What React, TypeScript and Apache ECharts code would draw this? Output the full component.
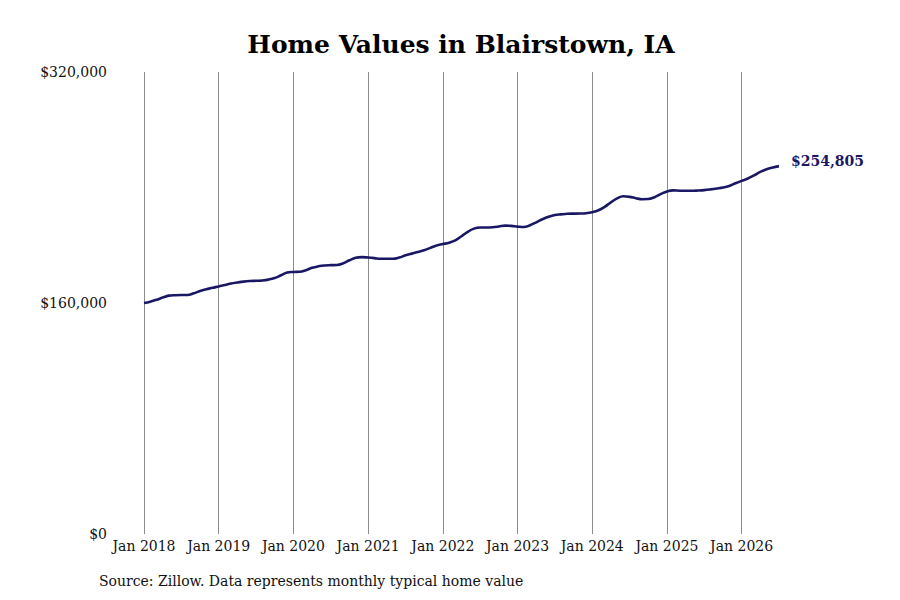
import { useEffect, useRef } from 'react'
import * as echarts from 'echarts'

const TITLE  = 'Home Values in Blairstown, IA'
const SOURCE = 'Source: Zillow. Data represents monthly typical home value'

const startYear = 2018
const monthNames = ['Jan', 'Feb', 'Mar', 'Apr', 'May', 'Jun', 'Jul', 'Aug', 'Sep', 'Oct', 'Nov', 'Dec']

// monthly typical home value, Jan 2018 .. Jul 2026
const values2018 = [160000, 160900, 162200, 163800, 165100, 165400, 165500, 165500, 166700, 168300, 169600, 170500]
const values2019 = [171500, 172400, 173500, 174200, 174800, 175200, 175400, 175600, 176200, 177300, 179200, 181100]
const values2020 = [181500, 181600, 182700, 184400, 185400, 186000, 186200, 186300, 187500, 189600, 191300, 191800]
const values2021 = [191500, 191100, 190600, 190600, 190600, 191500, 193000, 194200, 195300, 196500, 198200, 199800]
const values2022 = [200800, 201800, 203400, 206200, 209300, 211500, 212300, 212300, 212500, 213000, 213600, 213400]
const values2023 = [212900, 212600, 213800, 215900, 218000, 219700, 220900, 221400, 221800, 221900, 222000, 222200]
const values2024 = [222900, 224200, 226600, 229700, 232500, 233900, 233500, 232600, 231900, 232000, 233300, 235400]
const values2025 = [237300, 238000, 237800, 237700, 237700, 237900, 238200, 238700, 239300, 240000, 241100, 242900]
const values2026 = [244600, 246200, 248400, 250800, 252700, 253900, 254805]

const values = [
  ...values2018, ...values2019, ...values2020, ...values2021, ...values2022,
  ...values2023, ...values2024, ...values2025, ...values2026,
]
const months = values.map((_, i) => `${monthNames[i % 12]} ${startYear + Math.floor(i / 12)}`)

const yTicks = [0, 160000, 320000]

const FONT = 'DejaVu Serif'
const LINE = '#1a1865'

export default function App() {
  const ref = useRef<HTMLDivElement>(null)

  useEffect(() => {
    if (!ref.current) return
    const chart = echarts.init(ref.current, null, { renderer: 'svg' })

    chart.setOption({
      animation: false,
      backgroundColor: '#ffffff',
      textStyle: { fontFamily: FONT },
      graphic: [
        {
          type: 'text', x: 461, y: 44,
          style: {
            text: TITLE, textAlign: 'center', textVerticalAlign: 'middle',
            fontFamily: FONT, fontSize: 25, fontWeight: 'bold', fill: '#000',
          },
        },
        {
          type: 'text', x: 99, y: 581,
          style: {
            text: SOURCE, textAlign: 'left', textVerticalAlign: 'middle',
            fontFamily: FONT, fontSize: 14, fill: '#111',
          },
        },
      ],
      grid: { top: 72, bottom: 66, left: 144, right: 121 },
      xAxis: {
        type: 'category',
        data: months,
        boundaryGap: false,
        axisLine: { show: false },
        axisTick: { show: false },
        axisLabel: {
          interval: (i: number) => i % 12 === 0,
          color: '#111', fontSize: 14, fontFamily: FONT, margin: 5,
        },
        splitLine: {
          show: true,
          interval: (i: number) => i % 12 === 0,
          lineStyle: { color: '#8c8c8c', width: 1 },
        },
      },
      yAxis: {
        type: 'value',
        min: yTicks[0],
        max: yTicks[yTicks.length - 1],
        interval: yTicks[1] - yTicks[0],
        axisLine: { show: false },
        axisTick: { show: false },
        splitLine: { show: false },
        axisLabel: {
          color: '#111', fontSize: 14, fontFamily: FONT, margin: 37,
          formatter: (v: number) => '$' + v.toLocaleString('en-US'),
        },
      },
      series: [{
        type: 'line',
        data: values,
        smooth: 0.4,
        symbol: 'none',
        lineStyle: { color: LINE, width: 2.6 },
        endLabel: {
          show: true,
          distance: 12,
          offset: [0, -5],
          formatter: (p: any) => '$' + Number(p.value).toLocaleString('en-US'),
          color: LINE, fontSize: 14, fontWeight: 'bold', fontFamily: FONT,
        },
      }],
    })

    return () => chart.dispose()
  }, [])

  return <div ref={ref} style={{ position: 'fixed', left: 0, top: 0, width: 900, height: 600 }} />
}
